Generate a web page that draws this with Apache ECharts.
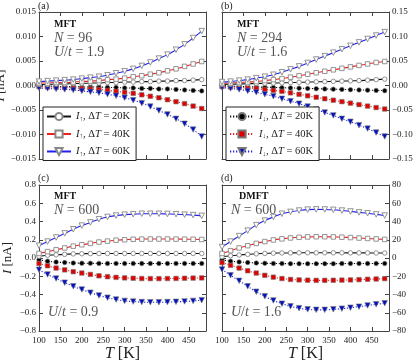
<!DOCTYPE html>
<html>
<head>
<meta charset="utf-8">
<script src="https://cdn.jsdelivr.net/npm/echarts@6.0.0/dist/echarts.min.js"></script>
<style>
html,body{margin:0;padding:0;background:#fff}
#chart{width:415px;height:363px}
</style>
</head>
<body>
<div id="chart"></div>
<script>
var serif = "'Liberation Serif', 'DejaVu Serif', serif";

// temperatures (K)
var temps = [100,120,140,160,180,200,220,240,260,280,300,320,340,360,380,400,420,440,460,480];

// panel (a) MFT, N = 96, U/t = 1.9
var aUp20 = [0.0002,0.0002,0.0003,0.0003,0.0004,0.0004,0.0005,0.0005,0.0006,0.0006,0.0007,0.0007,0.0008,0.0008,0.0009,0.0009,0.0010,0.0010,0.0011,0.0012];
var aUp40 = [0.0005,0.0005,0.0006,0.0006,0.0007,0.0008,0.0009,0.0010,0.0012,0.0013,0.0015,0.0018,0.0020,0.0023,0.0026,0.0030,0.0034,0.0039,0.0044,0.0049];
var aUp60 = [0.0008,0.0009,0.0010,0.0011,0.0012,0.0014,0.0016,0.0018,0.0021,0.0025,0.0029,0.0034,0.0040,0.0047,0.0055,0.0063,0.0073,0.0084,0.0097,0.0111];
var aDn20 = [-0.0001,-0.0001,-0.0002,-0.0002,-0.0002,-0.0003,-0.0003,-0.0003,-0.0004,-0.0004,-0.0005,-0.0005,-0.0006,-0.0006,-0.0007,-0.0007,-0.0008,-0.0009,-0.0010,-0.0011];
var aDn40 = [-0.0002,-0.0003,-0.0003,-0.0004,-0.0005,-0.0006,-0.0007,-0.0008,-0.0010,-0.0012,-0.0014,-0.0016,-0.0019,-0.0022,-0.0025,-0.0029,-0.0033,-0.0037,-0.0042,-0.0047];
var aDn60 = [-0.0005,-0.0006,-0.0007,-0.0008,-0.0009,-0.0011,-0.0013,-0.0015,-0.0018,-0.0021,-0.0025,-0.0030,-0.0036,-0.0043,-0.0051,-0.0059,-0.0068,-0.0078,-0.0090,-0.0104];

// panel (b) MFT, N = 294, U/t = 1.6
var bUp20 = [0.002,0.0025,0.003,0.0035,0.004,0.0045,0.005,0.0055,0.006,0.0065,0.007,0.0075,0.008,0.0085,0.009,0.0095,0.010,0.011,0.012,0.013];
var bUp40 = [0.004,0.005,0.006,0.007,0.008,0.010,0.012,0.014,0.017,0.020,0.023,0.026,0.029,0.032,0.035,0.038,0.041,0.044,0.047,0.049];
var bUp60 = [0.007,0.008,0.010,0.012,0.015,0.018,0.022,0.027,0.033,0.039,0.046,0.053,0.060,0.067,0.074,0.081,0.088,0.095,0.102,0.109];
var bDn20 = [-0.001,-0.0015,-0.002,-0.0025,-0.003,-0.0035,-0.004,-0.0045,-0.005,-0.0055,-0.006,-0.0065,-0.007,-0.0075,-0.008,-0.0085,-0.009,-0.0095,-0.010,-0.0105];
var bDn40 = [-0.002,-0.003,-0.004,-0.005,-0.006,-0.008,-0.010,-0.012,-0.015,-0.018,-0.021,-0.024,-0.027,-0.030,-0.033,-0.036,-0.039,-0.042,-0.045,-0.048];
var bDn60 = [-0.004,-0.006,-0.008,-0.011,-0.014,-0.018,-0.022,-0.027,-0.032,-0.037,-0.043,-0.049,-0.055,-0.061,-0.068,-0.074,-0.081,-0.088,-0.096,-0.104];

// panel (c) MFT, N = 600, U/t = 0.9
var cUp20 = [0.02,0.03,0.035,0.04,0.045,0.047,0.048,0.049,0.05,0.05,0.05,0.05,0.05,0.05,0.05,0.05,0.05,0.05,0.05,0.05];
var cUp40 = [0.05,0.07,0.09,0.11,0.13,0.145,0.16,0.175,0.185,0.195,0.2,0.205,0.207,0.208,0.208,0.208,0.207,0.206,0.205,0.203];
var cUp60 = [0.135,0.18,0.225,0.27,0.315,0.355,0.39,0.425,0.45,0.465,0.475,0.48,0.485,0.485,0.485,0.483,0.48,0.475,0.47,0.462];
var cDn20 = [-0.02,-0.035,-0.045,-0.05,-0.055,-0.057,-0.058,-0.059,-0.06,-0.06,-0.06,-0.06,-0.06,-0.06,-0.06,-0.06,-0.06,-0.06,-0.06,-0.06];
var cDn40 = [-0.06,-0.085,-0.11,-0.13,-0.15,-0.165,-0.18,-0.195,-0.205,-0.212,-0.218,-0.222,-0.225,-0.226,-0.226,-0.225,-0.224,-0.222,-0.22,-0.218];
var cDn60 = [-0.13,-0.18,-0.225,-0.27,-0.31,-0.345,-0.38,-0.41,-0.435,-0.455,-0.47,-0.478,-0.483,-0.485,-0.485,-0.483,-0.48,-0.476,-0.47,-0.462];

// panel (d) DMFT, N = 600, U/t = 1.6
var dUp20 = [1.5,2.5,3.3,4.0,4.6,5.0,5.3,5.5,5.6,5.7,5.7,5.7,5.7,5.7,5.7,5.6,5.6,5.6,5.5,5.5];
var dUp40 = [5,8,11,13.5,16,18,19.8,21,22,22.7,23.1,23.3,23.3,23.1,22.8,22.4,21.9,21.4,20.9,20.4];
var dUp60 = [12,18,24,30,36,41,45,48.5,50.5,52,53,53.3,53.2,52.8,52,51,50,49,47.8,46.5];
var dDn20 = [-2,-3.5,-4.3,-5,-5.5,-5.8,-6,-6.1,-6.2,-6.2,-6.2,-6.2,-6.2,-6.2,-6.1,-6.1,-6.1,-6,-6,-6];
var dDn40 = [-5,-8,-11,-14,-16.5,-19,-21,-22.5,-23.5,-24,-24.3,-24.5,-24.5,-24.4,-24.2,-24,-23.7,-23.3,-23,-22.6];
var dDn60 = [-12.5,-19,-25,-31,-37,-42,-46.5,-50,-53,-55,-56.3,-56.8,-56.8,-56.3,-55.5,-54.5,-53.3,-52,-50.8,-49.5];

var panels = [
  {key:'a', grid:{left:39, top:12, width:167, height:147}, yMin:-0.015, yMax:0.015, step:0.005, dec:3, side:'left',  xLab:false,
   up:[aUp20,aUp40,aUp60], dn:[aDn20,aDn40,aDn60]},
  {key:'b', grid:{left:222, top:12, width:167, height:147}, yMin:-0.15, yMax:0.15, step:0.05, dec:2, side:'right', xLab:false,
   up:[bUp20,bUp40,bUp60], dn:[bDn20,bDn40,bDn60]},
  {key:'c', grid:{left:39, top:185, width:167, height:146}, yMin:-0.8, yMax:0.8, step:0.2, dec:1, side:'left',  xLab:true,
   up:[cUp20,cUp40,cUp60], dn:[cDn20,cDn40,cDn60]},
  {key:'d', grid:{left:222, top:185, width:167, height:146}, yMin:-80, yMax:80, step:20, dec:0, side:'right', xLab:true,
   up:[dUp20,dUp40,dUp60], dn:[dDn20,dDn40,dDn60]}
];

var dts = ['20','40','60'];
var lineColors = ['#111111','#f02020','#2020f0'];
var fillColors = ['#000000','#e00000','#0010c0'];
var symbols = ['circle','rect','triangle'];
var symSizes = [4.5,4.5,5.5];
var frame = '#444';

function fmt(dec){
  return function(v){
    var s = Math.abs(v) < 1e-9 ? (0).toFixed(dec) : v.toFixed(dec);
    return s.replace('-', '\u2212');
  };
}
function pair(arr){
  return temps.map(function(t, i){ return [t, arr[i]]; });
}

var grids = [], xAxes = [], yAxes = [], series = [];

panels.forEach(function(p, k){
  grids.push(Object.assign({show:false, containLabel:false, outerBoundsMode:'none'}, p.grid));
  ['bottom','top'].forEach(function(pos){
    var lab = pos === 'bottom' && p.xLab;
    xAxes.push({
      gridIndex:k, type:'value', position:pos, min:100, max:490, interval:50,
      axisLine:{show:true, onZero:false, lineStyle:{color:frame, width:1}},
      axisTick:{show:true, inside:true, length:4, lineStyle:{color:frame}},
      axisLabel:{show:lab, showMaxLabel:false, margin:5, fontSize:9, color:'#222', fontFamily:serif},
      splitLine:{show:false},
      name: lab ? '{i|T} [K]' : '', nameLocation:'middle', nameGap:13,
      nameTextStyle:{fontSize:16, fontFamily:serif, color:'#222',
        rich:{i:{fontStyle:'italic', fontSize:16, fontFamily:serif, color:'#222'}}}
    });
  });
  ['left','right'].forEach(function(pos){
    var lab = pos === p.side;
    yAxes.push({
      gridIndex:k, type:'value', position:pos, min:p.yMin, max:p.yMax, interval:p.step,
      axisLine:{show:true, onZero:false, lineStyle:{color:frame, width:1}},
      axisTick:{show:true, inside:true, length:4, lineStyle:{color:frame}},
      axisLabel:{show:lab, margin:3, fontSize:9, color:'#222', fontFamily:serif, formatter:fmt(p.dec)},
      splitLine:{show:false},
      name: (lab && pos === 'left') ? '{i|I} [nA]' : '', nameLocation:'middle', nameGap:25, nameRotate:90,
      nameTextStyle:{fontSize:13, fontFamily:serif, color:'#222',
        rich:{i:{fontStyle:'italic', fontSize:13, fontFamily:serif, color:'#222'}}}
    });
  });
  for (var j = 0; j < 3; j++) {
    series.push({
      type:'line', name:'dn' + dts[j] + p.key, xAxisIndex:2*k, yAxisIndex:2*k,
      data:pair(p.dn[j]), symbol:symbols[j], symbolSize:symSizes[j], symbolRotate: j === 2 ? 180 : 0,
      showSymbol:true, smooth:true, z:2,
      lineStyle:{color:lineColors[j], width:1.1, type:[1.2,1.8]},
      itemStyle:{color:fillColors[j], borderColor:'#777', borderWidth:0.6}
    });
    series.push({
      type:'line', name:'up' + dts[j] + p.key, xAxisIndex:2*k, yAxisIndex:2*k,
      data:pair(p.up[j]), symbol:symbols[j], symbolSize:symSizes[j], symbolRotate: j === 2 ? 180 : 0,
      showSymbol:true, smooth:true, z:3,
      lineStyle:{color:lineColors[j], width:1.1},
      itemStyle:{color:'#fff', borderColor:'#888', borderWidth:0.9}
    });
  }
});

var legRich = {
  i:{fontStyle:'italic', fontFamily:serif, fontSize:10.5, color:'#222'},
  s:{fontFamily:serif, fontSize:7, color:'#222', verticalAlign:'bottom', padding:[5,0,0,0]}
};
function legFmt(name){
  var arrow = name.indexOf('up') === 0 ? '\u2191' : '\u2193';
  return '{i|I}{s|' + arrow + '}, \u0394{i|T} = ' + name.slice(2,4) + 'K';
}
function legend(left, names){
  return {
    left:left, top:107, orient:'vertical', data:names, selectedMode:false,
    itemWidth:24, itemHeight:9, itemGap:6,
    padding:[4,6,3,3], borderColor:'#222', borderWidth:1, borderRadius:0, backgroundColor:'#fff',
    textStyle:{fontFamily:serif, fontSize:10.5, color:'#222', rich:legRich},
    formatter:legFmt
  };
}

var annRich = {
  i:{fontStyle:'italic', fontFamily:serif, fontSize:14, color:'#555'},
  n:{fontFamily:serif, fontSize:14, color:'#555'}
};
function ann(text, left, top, style){
  return {text:text, left:left, top:top, padding:0, textStyle:Object.assign({fontFamily:serif, fontWeight:'normal', fontSize:14, color:'#555', rich:annRich}, style || {})};
}
var bold = {fontSize:10, fontWeight:'bold', color:'#111'};
var tag = {fontSize:10, color:'#222'};

var chart = echarts.init(document.getElementById('chart'), null, {renderer:'canvas'});
chart.setOption({
  animation:false,
  backgroundColor:'#fff',
  title:[
    ann('(a)', 38, 1, tag), ann('(b)', 221, 1, tag), ann('(c)', 38, 173, tag), ann('(d)', 221, 173, tag),
    ann('MFT', 54, 19, bold), ann('{i|N}{n| = 96}', 54, 31), ann('{i|U}{n|/}{i|t}{n| = 1.9}', 54, 45),
    ann('MFT', 237, 19, bold), ann('{i|N}{n| = 294}', 237, 31), ann('{i|U}{n|/}{i|t}{n| = 1.6}', 237, 45),
    ann('MFT', 54, 191, bold), ann('{i|N}{n| = 600}', 54, 203), ann('{i|U}{n|/}{i|t}{n| = 0.9}', 48, 305),
    ann('DMFT', 239, 191, bold), ann('{i|N}{n| = 600}', 231, 203), ann('{i|U}{n|/}{i|t}{n| = 1.6}', 231, 305)
  ],
  legend:[
    legend(43, ['up20a','up40a','up60a']),
    legend(226, ['dn20b','dn40b','dn60b'])
  ],
  grid:grids,
  xAxis:xAxes,
  yAxis:yAxes,
  series:series
});
</script>
</body>
</html>
